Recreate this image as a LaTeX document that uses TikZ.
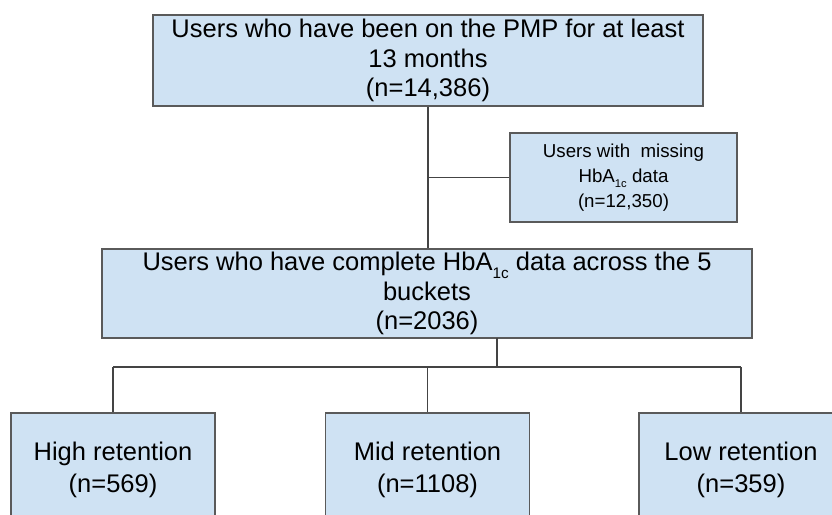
\documentclass[tikz,border=0pt]{standalone}
\usepackage{fontspec}
\setmainfont{Liberation Sans}
\definecolor{boxfill}{HTML}{CFE2F3}
\definecolor{boxline}{HTML}{5A5A5A}
\definecolor{wirecol}{HTML}{444444}
% small lowered subscript, as in HbA1c
\newcommand{\lowsub}[1]{\raisebox{-0.3em}{\scalebox{0.6}{#1}}}
\newcommand{\hba}{HbA\lowsub{1c}}
\begin{document}
\begin{tikzpicture}[x=1pt,y=-1pt,
  box/.style={draw=boxline, line width=1.5pt, fill=boxfill, inner sep=0pt,
    align=center, font=\fontsize{25.5}{29.5}\selectfont},
  smallbox/.style={box, font=\fontsize{18.7}{25}\selectfont},
  leafbox/.style={box, anchor=north, minimum width=204pt, minimum height=114pt,
    font=\fontsize{25.5}{32}\selectfont},
  wire/.style={draw=wirecol, line width=1.5pt}]
\useasboundingbox (0,0) rectangle (832,514);

% cohort boxes
\node[box, minimum width=550pt, minimum height=91pt] (top) at (428,60.5)
  {Users who have been on the PMP for at least\\13 months\\(n=14,386)};
\node[smallbox, minimum width=227pt, minimum height=89pt] (miss) at (623.5,177.5)
  {Users with\ \ missing\\\hba{} data\\(n=12,350)};
\node[box, minimum width=650pt, minimum height=89pt] (full) at (427,293.5)
  {Users who have complete \hba{} data across the 5\\buckets\\(n=2036)};

% retention groups
\node[leafbox] (high) at (113,412) {High retention\\(n=569)};
\node[leafbox] (midr) at (427.5,412) {Mid retention\\(n=1108)};
\node[leafbox] (low) at (741,412) {Low retention\\(n=359)};

% connectors
\coordinate (split) at (top.south |- miss.west);
\draw[wire] (top.south) -- (top.south |- full.north);
\draw[wire] (split) -- (miss.west);

\coordinate (tap) at (497,338);
\coordinate (bus) at (497,367);
\draw[wire] (tap) -- (bus);
\draw[wire] (high.north |- bus) -- (low.north |- bus);
\foreach \n in {high,midr,low}
  \draw[wire] (\n.north |- bus) -- (\n.north);
\end{tikzpicture}
\end{document}
